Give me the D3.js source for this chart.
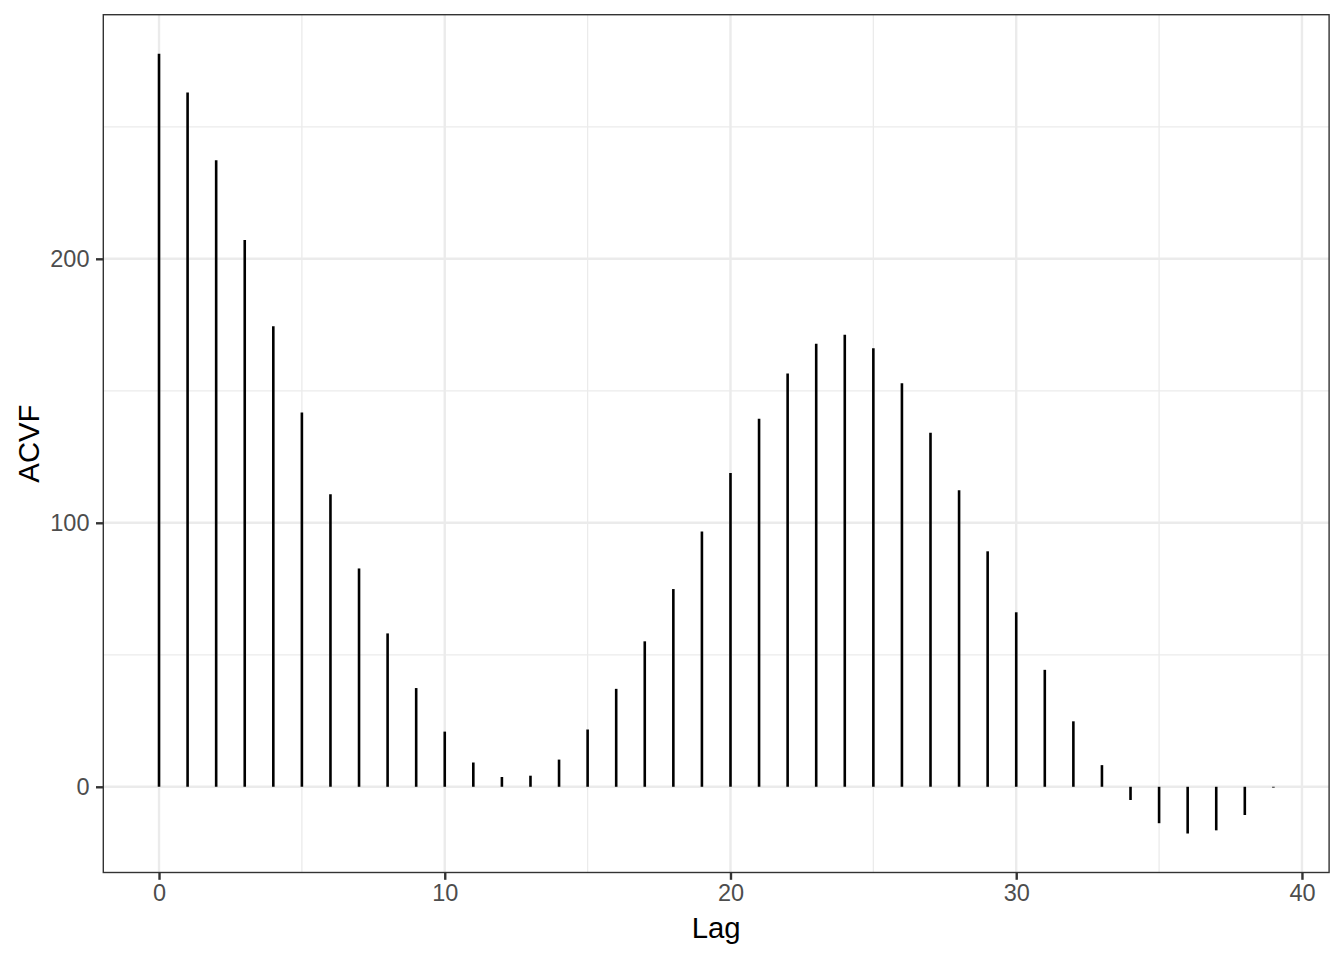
<!DOCTYPE html>
<html>
<head>
<meta charset="utf-8">
<script src="https://cdn.jsdelivr.net/npm/d3@7"></script>
<style>
  html, body { margin: 0; padding: 0; background: #fff; }
  svg { display: block; }
</style>
</head>
<body>
<script>
// ---- data ----
const lags = [0,1,2,3,4,5,6,7,8,9,10,11,12,13,14,15,16,17,18,19,20,21,22,23,24,25,26,27,28,29,30,31,32,33,34,35,36,37,38,39];
const acvf = [277.7,263.0,237.3,207.1,174.5,141.8,110.8,82.7,58.1,37.4,
              20.9,9.2,3.7,4.2,10.3,21.7,37.1,55.1,74.9,96.7,
              118.9,139.4,156.6,167.8,171.2,166.1,152.9,134.1,112.3,89.2,
              66.1,44.3,24.8,8.2,-5.0,-13.8,-17.7,-16.5,-10.7,-0.3];
const xTicks = [0,10,20,30,40];
const xMinor = [5,15,25,35];
const yTicks = [0,100,200];
const yMinor = [50,150,250];
const xTitle = "Lag";
const yTitle = "ACVF";

// ---- layout ----
const W = 1344, H = 960;
const panel = {left: 103.3, right: 1329.1, top: 14.7, bottom: 872.5};

function expand(ext) { const r = ext[1]-ext[0]; return [ext[0]-0.05*r, ext[1]+0.05*r]; }

const x = d3.scaleLinear().domain(expand(d3.extent(lags))).range([panel.left, panel.right]);
const yExt = d3.extent(acvf.concat([0]));
const y = d3.scaleLinear().domain(expand(yExt)).range([panel.bottom, panel.top]);

const svg = d3.select("body").append("svg").attr("width", W).attr("height", H);
const font = "'Liberation Sans', Arial, Helvetica, sans-serif";

// panel background
svg.append("rect").attr("x", panel.left).attr("y", panel.top)
  .attr("width", panel.right-panel.left).attr("height", panel.bottom-panel.top)
  .attr("fill", "#fff");

const grid = svg.append("g");
// minor grid
grid.selectAll(".xm").data(xMinor).join("line")
  .attr("x1", d=>x(d)).attr("x2", d=>x(d)).attr("y1", panel.top).attr("y2", panel.bottom)
  .attr("stroke", "#EBEBEB").attr("stroke-width", 1.3);
grid.selectAll(".ym").data(yMinor).join("line")
  .attr("y1", d=>y(d)).attr("y2", d=>y(d)).attr("x1", panel.left).attr("x2", panel.right)
  .attr("stroke", "#EBEBEB").attr("stroke-width", 1.3);
// major grid
grid.selectAll(".xM").data(xTicks).join("line")
  .attr("x1", d=>x(d)).attr("x2", d=>x(d)).attr("y1", panel.top).attr("y2", panel.bottom)
  .attr("stroke", "#EBEBEB").attr("stroke-width", 2.4);
grid.selectAll(".yM").data(yTicks).join("line")
  .attr("y1", d=>y(d)).attr("y2", d=>y(d)).attr("x1", panel.left).attr("x2", panel.right)
  .attr("stroke", "#EBEBEB").attr("stroke-width", 2.4);

// segments
svg.append("g").selectAll("line").data(lags).join("line")
  .attr("x1", (d)=>x(d)).attr("x2", (d)=>x(d))
  .attr("y1", y(0)).attr("y2", (d,i)=>y(acvf[i]))
  .attr("stroke", "#000").attr("stroke-width", 2.6);

// panel border
svg.append("rect").attr("x", panel.left).attr("y", panel.top)
  .attr("width", panel.right-panel.left).attr("height", panel.bottom-panel.top)
  .attr("fill", "none").attr("stroke", "#333333").attr("stroke-width", 1.4);

// axes via d3
const xAxis = d3.axisBottom(x).tickValues(xTicks).tickSize(7.3).tickPadding(4.5).tickFormat(d3.format("d"));
const gx = svg.append("g").attr("transform", `translate(0,${panel.bottom})`).call(xAxis);
gx.select(".domain").remove();
gx.selectAll(".tick line").attr("stroke", "#333333").attr("stroke-width", 2.4);
gx.selectAll(".tick text").attr("fill", "#4D4D4D").attr("font-family", font).attr("font-size", 23.5);

const yAxis = d3.axisLeft(y).tickValues(yTicks).tickSize(7.3).tickPadding(6.5).tickFormat(d3.format("d"));
const gy = svg.append("g").attr("transform", `translate(${panel.left},0)`).call(yAxis);
gy.select(".domain").remove();
gy.selectAll(".tick line").attr("stroke", "#333333").attr("stroke-width", 2.4);
gy.selectAll(".tick text").attr("fill", "#4D4D4D").attr("font-family", font).attr("font-size", 23.5);

// titles
svg.append("text").attr("x", (panel.left+panel.right)/2).attr("y", 937.5)
  .attr("text-anchor", "middle").attr("font-family", font).attr("font-size", 29.3)
  .attr("fill", "#000").text(xTitle);
svg.append("text")
  .attr("transform", `translate(38.5,${(panel.top+panel.bottom)/2}) rotate(-90)`)
  .attr("text-anchor", "middle").attr("font-family", font).attr("font-size", 29.3)
  .attr("fill", "#000").text(yTitle);
</script>
</body>
</html>
